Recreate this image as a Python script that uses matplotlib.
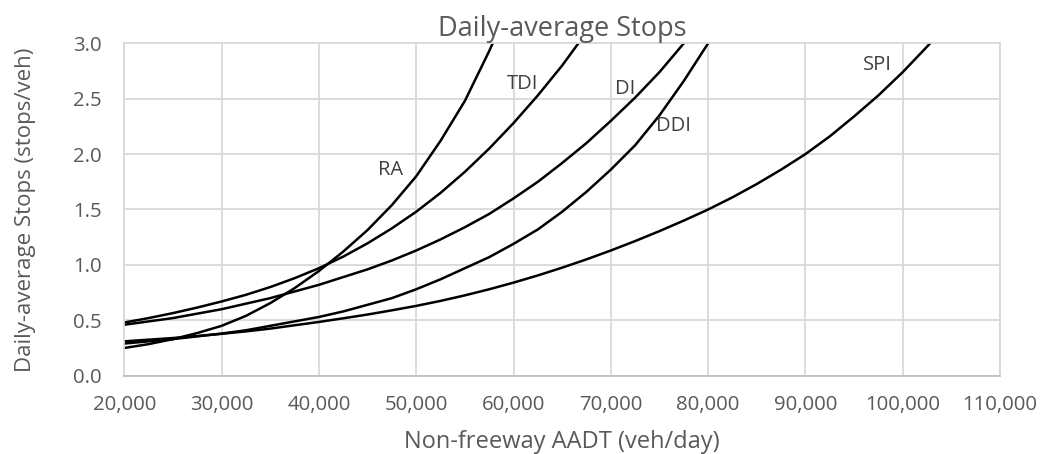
import matplotlib
matplotlib.use("Agg")
from matplotlib import pyplot as plt
from matplotlib.ticker import FuncFormatter

plt.rcParams['font.family'] = ['Open Sans', 'DejaVu Sans']

# values, every 2,500 veh/day
aadt = [20000, 22500, 25000, 27500, 30000, 32500, 35000, 37500, 40000,
        42500, 45000, 47500, 50000, 52500, 55000, 57500, 60000, 62500,
        65000, 67500, 70000, 72500, 75000, 77500, 80000, 82500, 85000,
        87500, 90000, 92500, 95000, 97500, 100000, 102500, 105000]

ra = [0.25, 0.285, 0.33, 0.385, 0.45, 0.54, 0.655, 0.79, 0.945, 1.12,
      1.315, 1.54, 1.80, 2.12, 2.48, 2.93, 3.42]
tdi = [0.48, 0.52, 0.565, 0.615, 0.67, 0.73, 0.80, 0.88, 0.97, 1.075,
       1.195, 1.33, 1.48, 1.65, 1.84, 2.05, 2.28, 2.53, 2.80, 3.10]
di = [0.46, 0.49, 0.52, 0.56, 0.60, 0.65, 0.70, 0.76, 0.82, 0.89, 0.96,
      1.04, 1.13, 1.23, 1.34, 1.46, 1.60, 1.75, 1.92, 2.10, 2.30, 2.51,
      2.74, 3.0, 3.28]
ddi = [0.29, 0.31, 0.33, 0.355, 0.38, 0.41, 0.45, 0.49, 0.53, 0.58, 0.64,
       0.70, 0.78, 0.87, 0.97, 1.07, 1.19, 1.32, 1.48, 1.66, 1.86, 2.08,
       2.35, 2.66, 3.0, 3.36]
spi = [0.31, 0.325, 0.34, 0.358, 0.378, 0.40, 0.425, 0.455, 0.485, 0.518,
       0.552, 0.59, 0.63, 0.675, 0.725, 0.78, 0.84, 0.905, 0.975, 1.05,
       1.13, 1.215, 1.305, 1.40, 1.50, 1.61, 1.73, 1.86, 2.00, 2.16, 2.34,
       2.53, 2.74, 2.97, 3.21]

series = {'RA': ra, 'TDI': tdi, 'DI': di, 'DDI': ddi, 'SPI': spi}
label_pos = {'RA': (47400, 1.86), 'TDI': (60900, 2.63), 'DI': (71500, 2.59),
             'DDI': (76400, 2.25), 'SPI': (97400, 2.80)}

grey = '#d9d9d9'
txt = '#595959'

fig = plt.figure(figsize=(10.43, 4.54), dpi=100)
ax = fig.add_axes([0.1192, 0.1725, 0.9588 - 0.1192, 0.9046 - 0.1725])

for name, vals in series.items():
    ax.plot(aadt[:len(vals)], vals, color='black', lw=1.8,
            solid_joinstyle='round')
    x, y = label_pos[name]
    ax.text(x, y, name, fontsize=14.5, color='#404040', ha='center',
            va='center')

ax.set_xlim(20000, 110000)
ax.set_ylim(0, 3.0)
ax.set_xticks(range(20000, 110001, 10000))
ax.set_yticks([0, 0.5, 1.0, 1.5, 2.0, 2.5, 3.0])
ax.xaxis.set_major_formatter(FuncFormatter(lambda v, p: f'{int(v):,}'))
ax.yaxis.set_major_formatter(FuncFormatter(lambda v, p: f'{v:.1f}'))
ax.grid(True, color=grey, lw=1.3)
ax.set_axisbelow(True)
for s in ['left', 'top', 'right']:
    ax.spines[s].set_color(grey)
    ax.spines[s].set_linewidth(1.3)
ax.spines['bottom'].set_color('#bfbfbf')
ax.spines['bottom'].set_linewidth(1.3)
ax.tick_params(length=0, labelsize=14.7, labelcolor=txt)
ax.tick_params(axis='x', pad=14)
ax.tick_params(axis='y', pad=16)

ax.set_title('Daily-average Stops', fontsize=19.5, color=txt, pad=5)
ax.set_xlabel('Non-freeway AADT (veh/day)', fontsize=17, color=txt,
              labelpad=11)
ax.set_ylabel('Daily-average Stops (stops/veh)', fontsize=16, color=txt,
              labelpad=27)

plt.savefig('out.png', dpi=100)
